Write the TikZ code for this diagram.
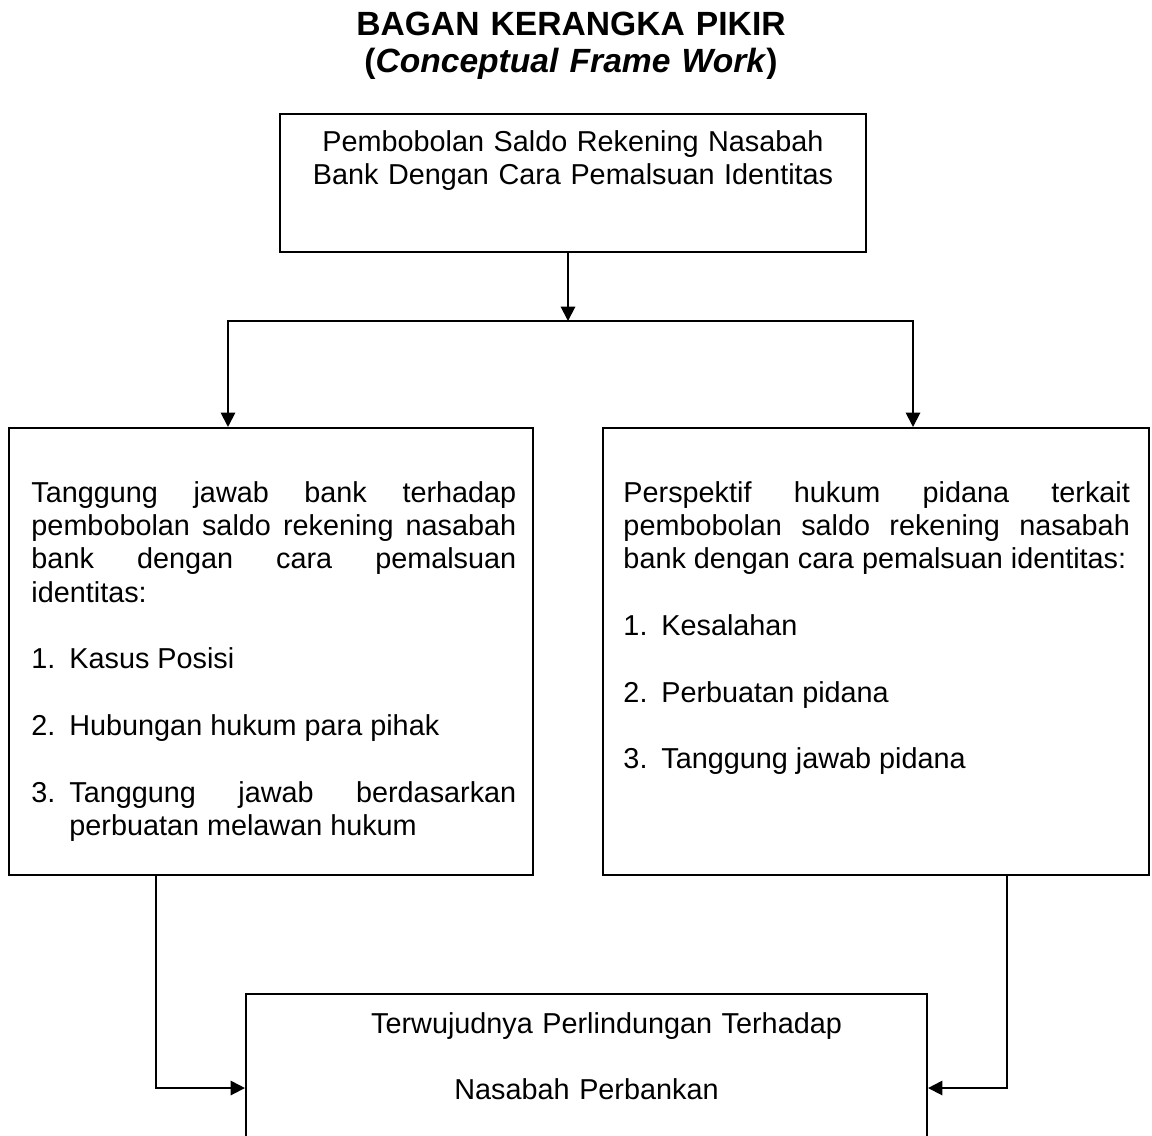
\documentclass[tikz,border=0pt]{standalone}
\usepackage{fontspec}
\setmainfont{Liberation Sans}
\usepackage{tikz}
\usetikzlibrary{positioning}
\usetikzlibrary{arrows.meta}

\newcommand{\jeda}{\par\vspace{\baselineskip}}
\newcommand{\butir}[1]{\par\noindent\makebox[15.8pt][l]{#1}}
\newcommand{\lanjut}{\linebreak\hspace*{15.8pt}}

\begin{document}
\begin{tikzpicture}[x=0.41667pt, y=-0.41667pt]
 
 \tikzset{kotak/.style={
 		draw, line width=0.8pt,
 		inner sep=0pt,
 		minimum width=#1
 	},
 	isi/.style={
 		inner sep=0pt,
 		text width=#1,
 		align=justify,
 		font=\fontsize{12}{13.9}\selectfont,
 		execute at begin node={\tolerance=10000\relax\hyphenpenalty=10000\relax}
 	},
 	panah/.style={line width=0.8pt, -{Triangle[length=6pt, width=6pt]}}
 }
 \useasboundingbox (0,0) rectangle (1152,1135);
 
 \node[anchor=base, text width=300pt, align=center, inner sep=0pt,
 	font=\bfseries\fontsize{14}{15.8}\selectfont] (judul) at (571,35)
 	{BAGAN KERANGKA PIKIR\\(\textit{Conceptual Frame Work})};
 
 % kotak
 \node[kotak=244.2pt, minimum height=57.5pt] (masalah) at (573,183) {};
 \node[kotak=218.3pt, minimum height=186.3pt] (tanggungjawab) at (271,651.5) {};
 \node[kotak=227.5pt, minimum height=186.3pt] (perspektif) at (876,651.5) {};
 \node[kotak=283.8pt, minimum height=69.2pt] (perlindungan) at (586.5,1077) {};
 
 % isi kotak
 \node[isi=244pt, align=center, anchor=base] (tmasalah) at (573,151)
 	{Pembobolan Saldo Rekening Nasabah\\Bank Dengan Cara Pemalsuan Identitas};
 \node[isi=202pt, anchor=base west] (ttanggungjawab) at (31,502)
 	{Tanggung jawab bank terhadap\linebreak pembobolan saldo rekening nasabah\linebreak
 	bank dengan cara pemalsuan\linebreak identitas:
 	\jeda\butir{1.}Kasus Posisi
 	\jeda\butir{2.}Hubungan hukum para pihak
 	\jeda\butir{3.}Tanggung jawab berdasarkan\lanjut perbuatan melawan hukum};
 \node[isi=211pt, anchor=base west] (tperspektif) at (623,502)
 	{Perspektif hukum pidana terkait\linebreak pembobolan saldo rekening nasabah\linebreak
 	bank dengan cara pemalsuan identitas:
 	\jeda\butir{1.}Kesalahan
 	\jeda\butir{2.}Perbuatan pidana
 	\jeda\butir{3.}Tanggung jawab pidana};
 \node[isi=283pt, align=center, anchor=base] (tperlindungan) at (586.5,1033)
 	{\hspace*{16.7pt}Terwujudnya Perlindungan Terhadap\jeda Nasabah Perbankan};
 
 % panah
 \coordinate (cabang) at (568,321);
 \coordinate (cabangkiri) at (228,321);
 \coordinate (cabangkanan) at (913,321);
 \coordinate (temukiri) at (156,1088);
 \coordinate (temukanan) at (1007,1088);
 
 \draw[panah] (masalah.south -| cabang) -- (cabang);
 \draw[panah] (cabang) -| (cabangkiri |- tanggungjawab.north);
 \draw[panah] (cabang) -| (cabangkanan |- perspektif.north);
 \draw[panah] (tanggungjawab.south -| temukiri) |- (perlindungan.west |- temukiri);
 \draw[panah] (perspektif.south -| temukanan) |- (perlindungan.east |- temukanan);
 \end{tikzpicture}
\end{document}
